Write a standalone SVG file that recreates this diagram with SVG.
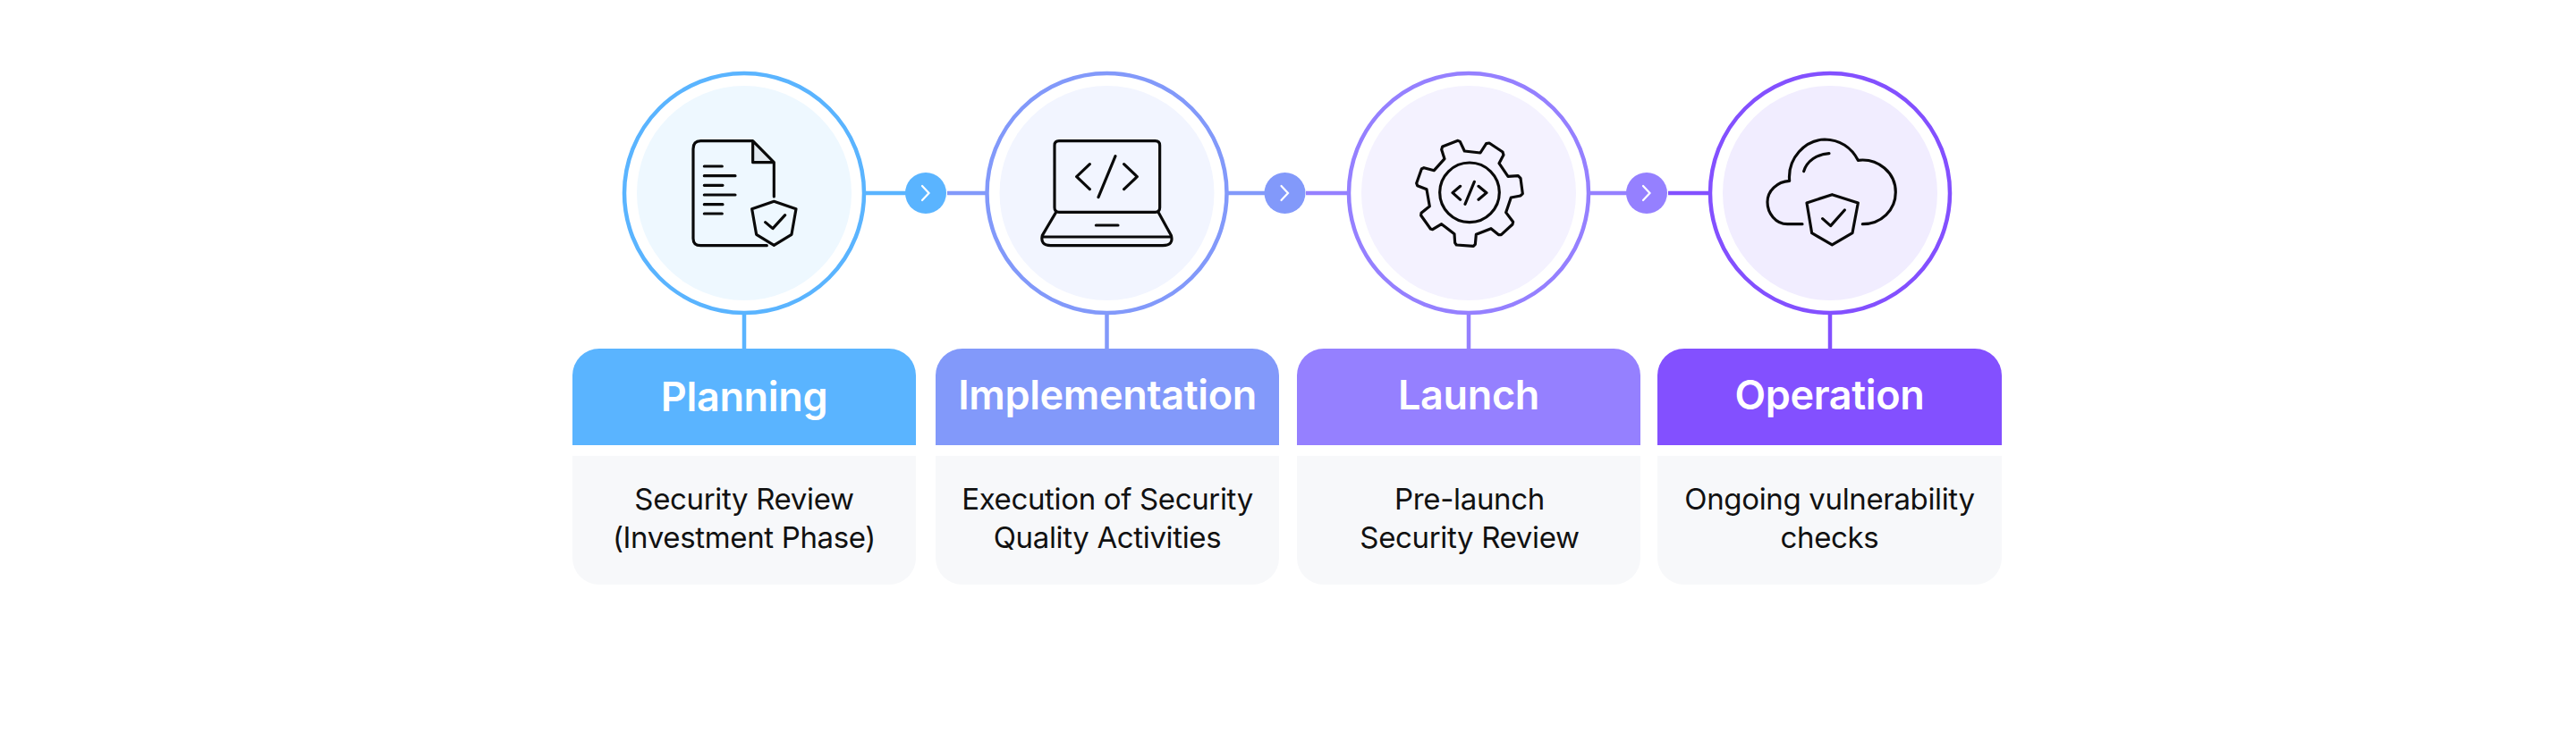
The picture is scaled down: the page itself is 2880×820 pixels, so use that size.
<svg xmlns="http://www.w3.org/2000/svg" width="2880" height="820" viewBox="0 0 2880 820">
<style>
text{font-family:Inter,"Liberation Sans",sans-serif;text-anchor:middle}
.h{font-size:45px;font-weight:600;fill:#fff;letter-spacing:-.35px}
.b{font-size:33px;font-weight:400;fill:#111;letter-spacing:-.35px}
.ring{stroke-width:4.5;fill:#fff}
.ic{fill:none;stroke:#0a0a0a;stroke-width:9.500;stroke-linecap:round;stroke-linejoin:round}
.conn{fill:none;stroke-width:4.5}
.chev{fill:none;stroke:#fff;stroke-width:2.2;stroke-linecap:round;stroke-linejoin:miter}
.bd{fill:#F7F8FA}
</style>
<rect width="2880" height="820" fill="#fff"/>
<g id="connectors">
<path class="conn" stroke="#5AB4FF" d="M968 216H1035M832 352V390"/>
<path class="conn" stroke="#8299FA" d="M1059 216H1103M1237.500 352V390M1373 216H1436"/>
<path class="conn" stroke="#9580FF" d="M1460 216H1508M1642 352V390M1777 216H1841"/>
<path class="conn" stroke="#8350FF" d="M1865 216H1912M2046 352V390"/>
<circle cx="1035" cy="216" r="23" fill="#5AB4FF"/><path class="chev" d="M1031 208L1038.500 216L1031 224"/>
<circle cx="1436.500" cy="216" r="23" fill="#8299FA"/><path class="chev" d="M1432.500 208L1440 216L1432.500 224"/>
<circle cx="1841" cy="216" r="23" fill="#9580FF"/><path class="chev" d="M1837 208L1844.500 216L1837 224"/>
</g>
<g id="node-planning">
<circle class="ring" cx="832" cy="216" r="134" stroke="#5AB4FF"/><circle cx="832" cy="216" r="120" fill="#EEF8FF"/>
<g transform="translate(750 140) scale(.3333)">
<path d="M275 53V125H346Z" fill="#E3EAF0"/>
<path class="ic" d="M322 404H100Q75 404 75 380V80Q75 53 100 53H275L346 125V240M275 53V125H346M112 138H172M112 170H216M112 202H174M112 234H216M112 266H174M112 297H172M346 256L420 281L405 367L346 403L287 367L272 281ZM317 326L342 347L383 302"/>
</g>
<path d="M640 420a30 30 0 0 1 30-30H994a30 30 0 0 1 30 30V498H640Z" fill="#5AB4FF"/>
<text class="h" x="832" y="460">Planning</text>
<path class="bd" d="M640 510H1024V624a30 30 0 0 1-30 30H670a30 30 0 0 1-30-30Z"/>
<text class="b" x="832" y="570">Security Review</text>
<text class="b" x="832" y="613">(Investment Phase)</text>
</g>
<g id="node-implementation">
<circle class="ring" cx="1237.500" cy="216" r="134" stroke="#8299FA"/><circle cx="1237.500" cy="216" r="120" fill="#F2F5FF"/>
<g transform="translate(1150 140) scale(.3333)">
<path class="ic" d="M102 53H425Q440 53 440 68V277Q440 292 425 292H102Q87 292 87 277V68Q87 53 102 53ZM205 131L161 173L205 215M320 131L364 173L320 215M291 104L234 242M92 292L46 370Q38 404 74 404H450Q488 404 478 370L435 292M46 375H478M226 336H300"/>
</g>
<path d="M1046 420a30 30 0 0 1 30-30H1400a30 30 0 0 1 30 30V498H1046Z" fill="#8299FA"/>
<text class="h" x="1238" y="458">Implementation</text>
<path class="bd" d="M1046 510H1430V624a30 30 0 0 1-30 30H1076a30 30 0 0 1-30-30Z"/>
<text class="b" x="1238" y="570">Execution of Security</text>
<text class="b" x="1238" y="613">Quality Activities</text>
</g>
<g id="node-launch">
<circle class="ring" cx="1642" cy="216" r="134" stroke="#9580FF"/><circle cx="1642" cy="216" r="120" fill="#F4F2FF"/>
<g transform="translate(1570 140) scale(.3333)">
<path class="ic" d="M135 113L125 82L128 72L180 52L187 55L202 87L255 93L275 62L285 60L330 90L333 100L318 128L348 172L382 170L390 178L397 230L390 237L358 243L341 293L365 325L363 333L325 368L317 368L291 347L241 367L238 400L232 406L175 402L170 395L168 365L125 332L95 350L88 348L56 303L57 295L85 272L75 215L44 203L41 195L58 147L66 143L100 152ZM188 205L162 227L188 250M249 205L276 227L249 250M235 190L204 265"/>
<circle class="ic" cx="219" cy="226" r="100"/>
</g>
<path d="M1450 420a30 30 0 0 1 30-30H1804a30 30 0 0 1 30 30V498H1450Z" fill="#9580FF"/>
<text class="h" x="1642" y="458">Launch</text>
<path class="bd" d="M1450 510H1834V624a30 30 0 0 1-30 30H1480a30 30 0 0 1-30-30Z"/>
<text class="b" x="1643" y="570">Pre-launch</text>
<text class="b" x="1643" y="613">Security Review</text>
</g>
<g id="node-operation">
<circle class="ring" cx="2046" cy="216" r="134" stroke="#8350FF"/><circle cx="2046" cy="216" r="120" fill="#F1EDFF"/>
<g transform="translate(1960 140) scale(.3333)">
<path class="ic" d="M165 332H115C75 332 48 295 48 258C48 220 80 190 122 187C115 110 175 50 240 48C290 48 330 75 352 118C420 110 478 160 478 225C478 285 430 332 367 332M170 155C180 120 215 97 255 95M265 233L352 261L333 362L265 402L197 362L180 261ZM233 314L260 338L307 285"/>
</g>
<path d="M1853 420a30 30 0 0 1 30-30H2208a30 30 0 0 1 30 30V498H1853Z" fill="#8350FF"/>
<text class="h" x="2045.500" y="458">Operation</text>
<path class="bd" d="M1853 510H2238V624a30 30 0 0 1-30 30H1883a30 30 0 0 1-30-30Z"/>
<text class="b" x="2045.500" y="570">Ongoing vulnerability</text>
<text class="b" x="2045.500" y="613">checks</text>
</g>
</svg>
